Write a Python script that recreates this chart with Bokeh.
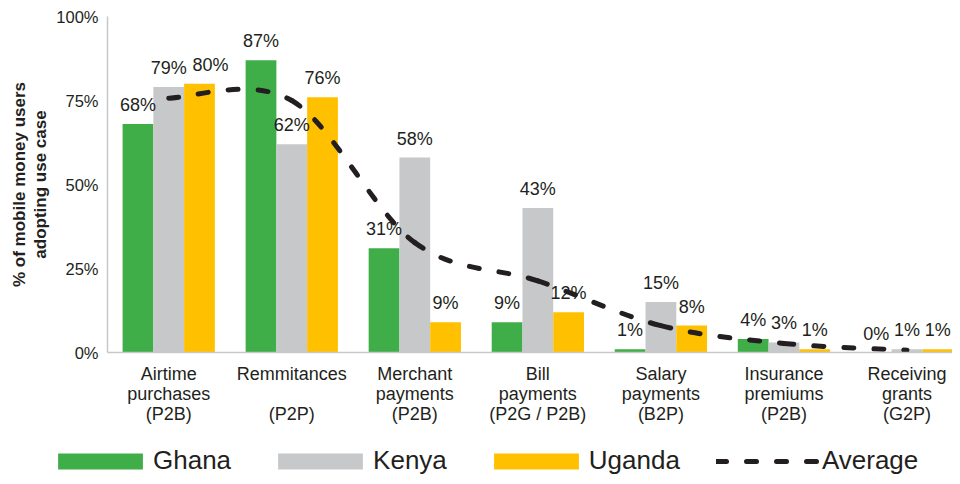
from bokeh.plotting import figure
from bokeh.layouts import column, row
from bokeh.models import (ColumnDataSource, Range1d, FixedTicker, LabelSet, Legend, LegendItem)
from bokeh.core.properties import value
from bokeh.embed import file_html
from bokeh.resources import INLINE

categories = ["Airtime\npurchases\n(P2B)", "Remmitances\n\n(P2P)", "Merchant\npayments\n(P2B)",
              "Bill\npayments\n(P2G / P2B)", "Salary\npayments\n(B2P)", "Insurance\npremiums\n(P2B)",
              "Receiving\ngrants\n(G2P)"]
series_names = ["Ghana", "Kenya", "Uganda", "Average"]
ghana = [68, 87, 31, 9, 1, 4, 0]
kenya = [79, 62, 58, 43, 15, 3, 1]
uganda = [80, 76, 9, 12, 8, 1, 1]
average = [75.7, 75.0, 32.7, 21.3, 8.0, 2.7, 0.7]
y_ticks = [0, 25, 50, 75, 100]
y_tick_labels = ["0%", "25%", "50%", "75%", "100%"]
# horizontal nudge (px) of the Uganda labels, as in the original (avoids overlap)
uganda_label_nudge = [11, 0, 0, 0, 0, 0, 0]

GREEN = "#3fae49"
GRAY = "#c7c8ca"
YELLOW = "#ffc000"
TXT = "#231f20"
FONT = "Liberation Sans"
W = 952

p = figure(width=W, height=436, output_backend="svg", toolbar_location=None,
           x_range=Range1d(-0.4976, 6.37), y_range=Range1d(0, 100),
           min_border_left=107, min_border_right=0, min_border_top=16, min_border_bottom=84)
p.outline_line_color = None
p.grid.grid_line_color = None

idx = list(range(len(categories)))
bw = 0.25
colors = [GREEN, GRAY, YELLOW]
series = [(ghana, GREEN, -bw, [0] * len(idx)), (kenya, GRAY, 0.0, [0] * len(idx)),
          (uganda, YELLOW, bw, uganda_label_nudge)]
for vals, col, off, nudge in series:
    src = ColumnDataSource(dict(x=[i + off for i in idx], top=vals,
                                lab=[f"{v}%" for v in vals], dx=nudge))
    p.vbar(x="x", top="top", width=bw, source=src, fill_color=col, line_color=None)
    p.add_layout(LabelSet(x="x", y="top", text="lab", source=src, text_align="center",
                          text_baseline="alphabetic", y_offset=13, x_offset="dx",
                          text_font=value(FONT), text_font_size="18px", text_color=TXT))

# smooth (Catmull-Rom style) curve for the average, drawn as bezier segments
n = len(average)
x0, y0, x1, y1, cx0, cy0, cx1, cy1 = [], [], [], [], [], [], [], []
for i in range(n - 1):
    pm = (idx[max(i - 1, 0)], average[max(i - 1, 0)])
    pa = (idx[i], average[i])
    pb = (idx[i + 1], average[i + 1])
    pp = (idx[min(i + 2, n - 1)], average[min(i + 2, n - 1)])
    x0.append(pa[0]); y0.append(pa[1]); x1.append(pb[0]); y1.append(pb[1])
    cx0.append(pa[0] + (pb[0] - pm[0]) / 6); cy0.append(pa[1] + (pb[1] - pm[1]) / 6)
    cx1.append(pb[0] - (pp[0] - pa[0]) / 6); cy1.append(pb[1] - (pp[1] - pa[1]) / 6)
LINE_STYLE = dict(line_color=TXT, line_width=5, line_dash="10 20", line_cap="round")
p.bezier(x0=x0, y0=y0, x1=x1, y1=y1, cx0=cx0, cy0=cy0, cx1=cx1, cy1=cy1, **LINE_STYLE)

# axes
xa = p.xaxis[0]
xa.ticker = FixedTicker(ticks=idx)
xa.major_label_overrides = {i: c for i, c in zip(idx, categories)}
xa.major_tick_line_color = None
xa.minor_tick_line_color = None
xa.axis_line_color = "#c8c8c8"
xa.axis_line_width = 1.5
xa.major_label_standoff = 5
xa.major_label_text_font = FONT
xa.major_label_text_font_size = "18px"
xa.major_label_text_color = TXT
xa.major_label_text_line_height = 1.0

ya = p.yaxis[0]
ya.ticker = FixedTicker(ticks=y_ticks)
ya.major_label_overrides = {t: l for t, l in zip(y_ticks, y_tick_labels)}
ya.major_tick_line_color = None
ya.minor_tick_line_color = None
ya.axis_line_color = "#c8c8c8"
ya.axis_line_width = 1.5
ya.major_label_standoff = 3
ya.major_label_text_font = FONT
ya.major_label_text_font_size = "16.5px"
ya.major_label_text_color = TXT
ya.axis_label = "% of mobile money users\nadopting use case"
ya.axis_label_text_font = FONT
ya.axis_label_text_font_size = "17px"
ya.axis_label_text_font_style = "bold"
ya.axis_label_text_color = TXT
ya.axis_label_standoff = 3
ya.axis_label_text_line_height = 1.1

# legend strip below the chart (its glyphs draw the same series, below its view)
lg = figure(width=W, height=40, output_backend="svg", toolbar_location=None,
            x_range=Range1d(-0.5, 6.5), y_range=Range1d(200, 300),
            x_axis_location=None, y_axis_location=None,
            min_border_left=0, min_border_right=0, min_border_top=0, min_border_bottom=0)
lg.outline_line_color = None
lg.grid.grid_line_color = None
items = []
for name, col, vals in zip(series_names[:3], colors, [ghana, kenya, uganda]):
    r = lg.vbar(x=idx, top=vals, width=bw, fill_color=col, line_color=None)
    items.append(LegendItem(label=name, renderers=[r]))
rl = lg.line(x=idx, y=average, **LINE_STYLE)
items.append(LegendItem(label=series_names[3], renderers=[rl]))
legend = Legend(items=items, orientation="horizontal", location=(47, 0),
                glyph_width=106, glyph_height=20, label_standoff=0, spacing=36,
                padding=0, margin=0, border_line_color=None, background_fill_alpha=0,
                label_text_font=FONT, label_text_font_size="26px", label_text_color=TXT)
lg.add_layout(legend, "center")

layout = column(p, row(lg), spacing=0)
open("out.html", "w").write(file_html(layout, INLINE))
